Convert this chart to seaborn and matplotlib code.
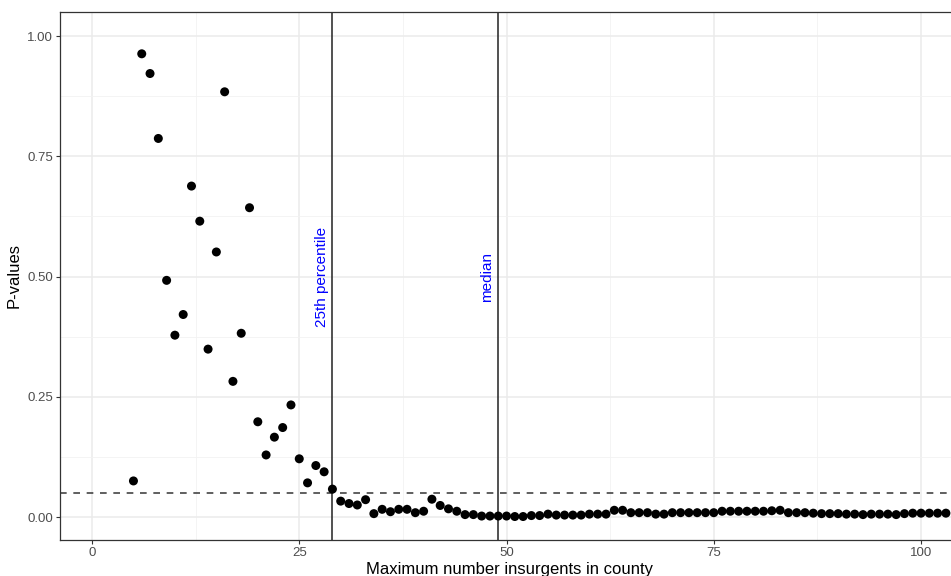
import matplotlib
matplotlib.use("Agg")
import matplotlib.pyplot as plt
import seaborn as sns
import pandas as pd
from matplotlib.ticker import MultipleLocator

# ---- data ----
max_insurgents = list(range(5, 104))
p_values = [
    0.075, 0.963, 0.922, 0.787, 0.492, 0.378, 0.421, 0.688, 0.615, 0.349,   # 5-14
    0.551, 0.884, 0.282, 0.382, 0.643, 0.198, 0.129, 0.166, 0.186, 0.233,   # 15-24
    0.121, 0.071, 0.107, 0.094, 0.058, 0.033, 0.028, 0.025, 0.036, 0.007,   # 25-34
    0.016, 0.011, 0.016, 0.016, 0.009, 0.012, 0.037, 0.024, 0.017, 0.012,   # 35-44
    0.005, 0.005, 0.002, 0.002, 0.002, 0.002, 0.001, 0.001, 0.003, 0.003,   # 45-54
    0.006, 0.004, 0.004, 0.004, 0.004, 0.006, 0.006, 0.006, 0.014, 0.014,   # 55-64
    0.009, 0.009, 0.009, 0.006, 0.006, 0.009, 0.009, 0.009, 0.009, 0.009,   # 65-74
    0.009, 0.012, 0.012, 0.012, 0.012, 0.012, 0.012, 0.013, 0.014, 0.009,   # 75-84
    0.009, 0.009, 0.008, 0.007, 0.007, 0.007, 0.006, 0.006, 0.005, 0.006,   # 85-94
    0.006, 0.006, 0.005, 0.007, 0.008, 0.008, 0.008, 0.008, 0.008,          # 95-103
]
percentile_25 = 29
median_val = 49
threshold = 0.05
x_ticks = [0, 25, 50, 75, 100]
y_ticks = [0.00, 0.25, 0.50, 0.75, 1.00]
y_tick_labels = ["0.00", "0.25", "0.50", "0.75", "1.00"]

df = pd.DataFrame({"max_insurgents": max_insurgents, "p_value": p_values})

sns.set_theme(style="white")
plt.rcParams["font.family"] = ["Liberation Sans", "DejaVu Sans"]

W, H = 951, 576
fig = plt.figure(figsize=(W / 100, H / 100), dpi=100)
# panel in pixel coordinates: left 60, right 960 (just past the edge), top 12, bottom 540
ax = fig.add_axes([60 / W, (H - 540) / H, (960 - 60) / W, (540 - 12) / H])

ax.set_xlim(-3.86, 104.7)
ax.set_ylim(-0.0478, 1.0499)

# grid (theme_bw-like)
ax.xaxis.set_major_locator(MultipleLocator(25))
ax.xaxis.set_minor_locator(MultipleLocator(12.5))
ax.yaxis.set_major_locator(MultipleLocator(0.25))
ax.yaxis.set_minor_locator(MultipleLocator(0.125))
ax.grid(which="major", color="#EBEBEB", linewidth=1.1, zorder=0)
ax.grid(which="minor", color="#F2F2F2", linewidth=0.6, zorder=0)
ax.set_axisbelow(True)

ax.axhline(threshold, color="#444444", linestyle=(0, (4, 4)), linewidth=1.2, zorder=1)
ax.axvline(percentile_25, color="#222222", linewidth=1.1, zorder=1)
ax.axvline(median_val, color="#222222", linewidth=1.1, zorder=1)

sns.scatterplot(data=df, x="max_insurgents", y="p_value", ax=ax,
                color="black", s=42, edgecolor="none", zorder=3, clip_on=True)

ax.text(percentile_25 - 1.3, 0.5, "25th percentile", rotation=90, color="blue",
        fontsize=11, ha="center", va="center")
ax.text(median_val - 1.3, 0.5, "median", rotation=90, color="blue",
        fontsize=11, ha="center", va="center")

ax.set_xticks(x_ticks)
ax.set_yticks(y_ticks)
ax.set_yticklabels(y_tick_labels)
ax.tick_params(axis="both", which="major", direction="out", length=3, width=0.8,
               color="#333333", labelcolor="#4D4D4D", labelsize=9.5, pad=2,
               bottom=True, left=True)
ax.tick_params(which="minor", length=0)

for s in ax.spines.values():
    s.set_color("#333333")
    s.set_linewidth(0.9)
ax.spines["right"].set_visible(False)

ax.set_xlabel("Maximum number insurgents in county", fontsize=12, color="black", labelpad=2)
ax.set_ylabel("P-values", fontsize=12, color="black", labelpad=4)

fig.savefig("out.png", dpi=100)
